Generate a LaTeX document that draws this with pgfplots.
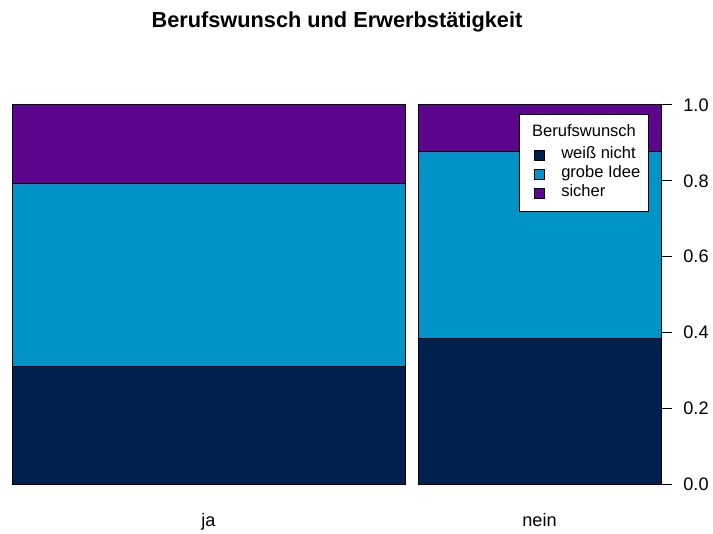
\documentclass[border=0pt]{standalone}
\usepackage{fontspec}
\setmainfont{Liberation Sans}
\usepackage{pgfplots}
\pgfplotsset{compat=1.18}
\definecolor{cdark}{HTML}{00214D}
\definecolor{cblue}{HTML}{0093C8}
\definecolor{cpurp}{HTML}{5B068C}
\begin{document}
\begin{tikzpicture}[x=1pt,y=1pt]
\useasboundingbox (0pt,0pt) rectangle (534.75pt,399.75pt);
\begin{axis}[
  at={(9pt,36.75pt)}, anchor=south west, scale only axis,
  width=486.75pt, height=284.25pt,
  xmin=12, xmax=661, ymin=0, ymax=1,
  axis y line*=right, axis x line*=bottom,
  x axis line style={draw=none},
  y axis line style={line width=0.75pt},
  xtick={208.5,539.5}, xticklabels={ja,nein},
  xtick style={draw=none},
  ytick={0,0.2,0.4,0.6,0.8,1.0},
  ytick style={line width=0.75pt, black},
  tick align=outside, major tick length=8.25pt,
  /pgf/number format/fixed, /pgf/number format/fixed zerofill,
  /pgf/number format/precision=1, /pgf/number format/assume math mode=true,
  ticklabel style={font=\fontsize{13.6}{16}\selectfont},
  xticklabel style={anchor=base, yshift=-23.5pt},
  yticklabel style={anchor=west, xshift=5pt},
  clip=false,
]
% ja
\addplot[fill=cdark, draw=black, line width=0.75pt] coordinates {(12,0) (405,0) (405,0.311) (12,0.311)} -- cycle;
\addplot[fill=cblue, draw=black, line width=0.75pt] coordinates {(12,0.311) (405,0.311) (405,0.792) (12,0.792)} -- cycle;
\addplot[fill=cpurp, draw=black, line width=0.75pt] coordinates {(12,0.792) (405,0.792) (405,1) (12,1)} -- cycle;
% nein
\addplot[fill=cdark, draw=black, line width=0.75pt] coordinates {(418,0) (661,0) (661,0.383) (418,0.383)} -- cycle;
\addplot[fill=cblue, draw=black, line width=0.75pt] coordinates {(418,0.383) (661,0.383) (661,0.878) (418,0.878)} -- cycle;
\addplot[fill=cpurp, draw=black, line width=0.75pt] coordinates {(418,0.878) (661,0.878) (661,1) (418,1)} -- cycle;
\end{axis}
\node[font=\bfseries\fontsize{16.3}{19}\selectfont] at (252.75pt,383.25pt) {Berufswunsch und Erwerbstätigkeit};
% legend
\node[draw=black, line width=0.75pt, fill=white, anchor=north west, inner sep=0pt, minimum width=96.75pt, minimum height=72.75pt] at (389.25pt,314.25pt) {};
\begin{scope}[every node/.style={font=\fontsize{12.4}{14}\selectfont}]
\node at (438pt,301.75pt) {Berufswunsch};
\node[draw=black, line width=0.6pt, fill=cdark, minimum size=7.5pt, inner sep=0pt] at (404.6pt,283.5pt) {};
\node[draw=black, line width=0.6pt, fill=cblue, minimum size=7.5pt, inner sep=0pt] at (404.6pt,269.25pt) {};
\node[draw=black, line width=0.6pt, fill=cpurp, minimum size=7.5pt, inner sep=0pt] at (404.6pt,255pt) {};
\node[anchor=mid west, inner sep=0pt] at (420.75pt,283.5pt) {weiß nicht};
\node[anchor=mid west, inner sep=0pt] at (420.75pt,269.25pt) {grobe Idee};
\node[anchor=mid west, inner sep=0pt] at (420.75pt,255pt) {sicher};
\end{scope}
\end{tikzpicture}
\end{document}
